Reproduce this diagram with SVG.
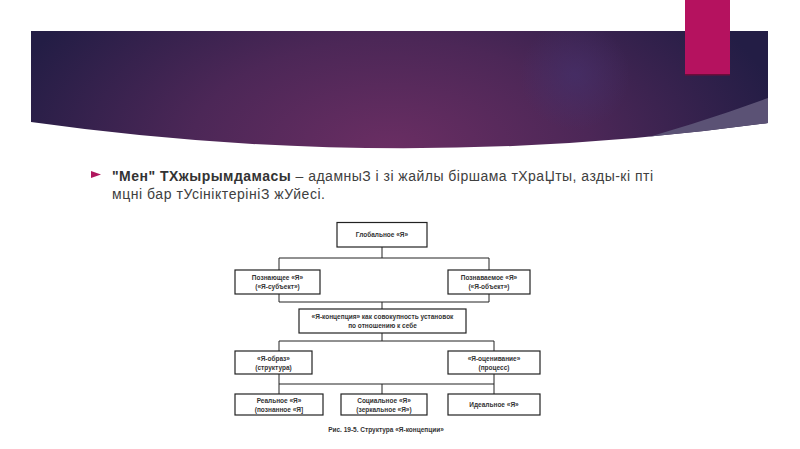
<svg xmlns="http://www.w3.org/2000/svg" width="800" height="449" viewBox="0 0 800 449">
<defs>
<radialGradient id="bg" cx="390" cy="150" r="400" gradientUnits="userSpaceOnUse" gradientTransform="translate(390 150) scale(1 0.55) translate(-390 -150)">
<stop offset="0" stop-color="#6a2e63"/>
<stop offset="0.5" stop-color="#4c2757"/>
<stop offset="1" stop-color="#231d45"/>
</radialGradient>
<radialGradient id="glow" cx="575" cy="75" r="55" gradientUnits="userSpaceOnUse">
<stop offset="0" stop-color="#45306a" stop-opacity="0.7"/>
<stop offset="1" stop-color="#45306a" stop-opacity="0"/>
</radialGradient>
<clipPath id="bannerClip">
<path d="M31,31 H768 V123 Q400,174 31,122 Z"/>
</clipPath>
<style>
.box{fill:#fff;stroke:#222;stroke-width:1.2}
.ln{fill:none;stroke:#222;stroke-width:1}
.dt{font-family:"Liberation Sans",Arial,sans-serif;font-size:6.5px;font-weight:bold;fill:#333;text-anchor:middle}
.body{font-family:"Liberation Sans",Arial,sans-serif;font-size:14px;fill:#404040}
</style>
</defs>
<rect width="800" height="449" fill="#fff"/>
<g id="banner">
<path d="M31,31 H768 V123 Q400,174 31,122 Z" fill="url(#bg)"/>
<g clip-path="url(#bannerClip)">
<circle cx="575" cy="75" r="55" fill="url(#glow)"/>
<path d="M520,170 Q660,138 768,98 V180 Z" fill="#5b5275"/>
</g>
<rect x="685" y="0" width="45" height="75" fill="#b5125f"/>
<rect x="685" y="74" width="45" height="1.5" fill="#6e0c3a"/>
</g>
<g id="bullet-text">
<path d="M91,171 L101,174.5 L91,178 Z" fill="#b0175e"/>
<text class="body" x="112" y="181" textLength="541" lengthAdjust="spacing"><tspan font-weight="bold" fill="#333">"Мен" ТХжырымдамасы</tspan> – адамныЗ і зі жайлы біршама тХраЏты, азды-кі пті</text>
<text class="body" x="112" y="199" textLength="213" lengthAdjust="spacing">мцні бар тУсініктерініЗ жУйесі.</text>
</g>
<g id="connectors">
<path class="ln" d="M382,247 V258 M279,258 H489 M279,258 V270 M489,258 V270"/>
<path class="ln" d="M279,294 V302 M489,294 V302 M279,302 H489 M382,302 V309"/>
<path class="ln" d="M382,333 V341 M279,341 H494 M279,341 V351 M494,341 V351"/>
<path class="ln" d="M279,374 V394 M494,374 V394 M279,384 H494 M382,384 V394"/>
</g>
<g id="node-global">
<rect class="box" x="337" y="222.5" width="90" height="24.5"/>
<text class="dt" x="382" y="237">Глобальное «Я»</text>
</g>
<g id="node-subject">
<rect class="box" x="235" y="270" width="85" height="24"/>
<text class="dt" x="277.5" y="280">Познающее «Я»</text>
<text class="dt" x="277.5" y="289">(«Я-субъект»)</text>
</g>
<g id="node-object">
<rect class="box" x="448" y="270" width="82" height="24"/>
<text class="dt" x="489" y="280">Познаваемое «Я»</text>
<text class="dt" x="489" y="289">(«Я-объект»)</text>
</g>
<g id="node-concept">
<rect class="box" x="299" y="309" width="167" height="24"/>
<text class="dt" x="382.5" y="319">«Я-концепция» как совокупность установок</text>
<text class="dt" x="382.5" y="328">по отношению к себе</text>
</g>
<g id="node-image">
<rect class="box" x="235" y="351" width="77" height="23"/>
<text class="dt" x="273.5" y="360.5">«Я-образ»</text>
<text class="dt" x="273.5" y="369.5">(структура)</text>
</g>
<g id="node-evaluation">
<rect class="box" x="448" y="351" width="92" height="23"/>
<text class="dt" x="494" y="360.5">«Я-оценивание»</text>
<text class="dt" x="494" y="369.5">(процесс)</text>
</g>
<g id="node-real">
<rect class="box" x="235" y="394" width="88" height="21"/>
<text class="dt" x="279" y="403">Реальное «Я»</text>
<text class="dt" x="279" y="411.5">(познанное «Я]</text>
</g>
<g id="node-social">
<rect class="box" x="341" y="394" width="86" height="21"/>
<text class="dt" x="384" y="403">Социальное «Я»</text>
<text class="dt" x="384" y="411.5">(зеркальное «Я»)</text>
</g>
<g id="node-ideal">
<rect class="box" x="448" y="394" width="92" height="21"/>
<text class="dt" x="494" y="407">Идеальное «Я»</text>
</g>
<text class="dt" x="386" y="432">Рис. 19-5. Структура «Я-концепции»</text>
</svg>
